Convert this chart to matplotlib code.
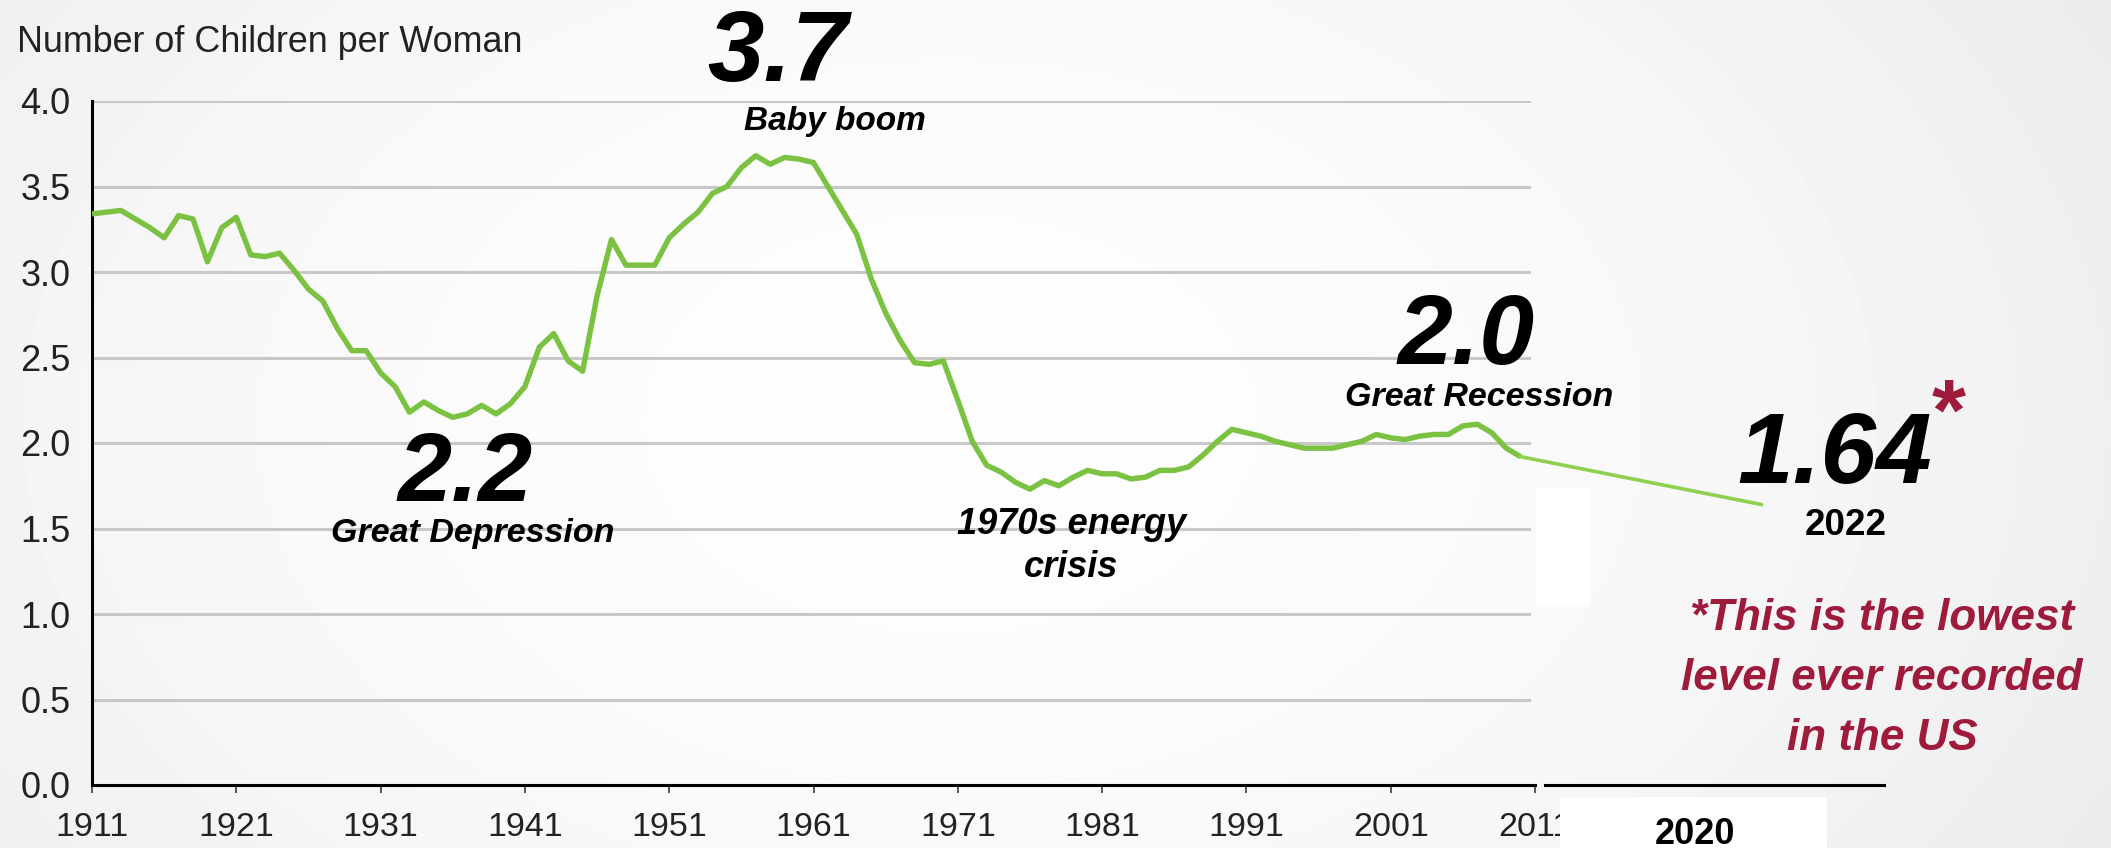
import numpy as np
import matplotlib.pyplot as plt
from matplotlib.patches import Rectangle, ConnectionPatch

# total fertility rate, US
years = list(range(1911, 2011))
fertility = [
    3.34, 3.35, 3.36, 3.31, 3.26, 3.20, 3.33, 3.31, 3.06, 3.26,  # 1911-1920
    3.32, 3.10, 3.09, 3.11, 3.01, 2.90, 2.83, 2.67, 2.54, 2.54,  # 1921-1930
    2.41, 2.33, 2.18, 2.24, 2.19, 2.15, 2.17, 2.22, 2.17, 2.23,  # 1931-1940
    2.33, 2.56, 2.64, 2.48, 2.42, 2.86, 3.19, 3.04, 3.04, 3.04,  # 1941-1950
    3.20, 3.28, 3.35, 3.46, 3.50, 3.61, 3.68, 3.63, 3.67, 3.66,  # 1951-1960
    3.64, 3.50, 3.36, 3.22, 2.96, 2.76, 2.60, 2.47, 2.46, 2.48,  # 1961-1970
    2.25, 2.01, 1.87, 1.83, 1.77, 1.73, 1.78, 1.75, 1.80, 1.84,  # 1971-1980
    1.82, 1.82, 1.79, 1.80, 1.84, 1.84, 1.86, 1.93, 2.01, 2.08,  # 1981-1990
    2.06, 2.04, 2.01, 1.99, 1.97, 1.97, 1.97, 1.99, 2.01, 2.05,  # 1991-2000
    2.03, 2.02, 2.04, 2.05, 2.05, 2.10, 2.11, 2.06, 1.97, 1.92,  # 2001-2010
]
tick_years = list(range(1911, 2012, 10))
y_ticks = [0.0, 0.5, 1.0, 1.5, 2.0, 2.5, 3.0, 3.5, 4.0]

latest_year = 2022
latest_value = 1.64
break_label_year = 2020

# annotation texts: (text, center x px, baseline y px, size pt)
big_numbers = [
    ("3.7", 778, 81, 73),
    ("2.2", 465, 501, 70),
    ("2.0", 1466, 364, 71),
    ("1.64", 1835, 483, 72),
]
event_labels = [
    ("Baby boom", 835, 130, 24),
    ("Great Depression", 473, 542, 24.5),
    ("Great Recession", 1479, 406, 24.5),
    ("1970s energy", 1072, 534, 26),
    ("crisis", 1071, 577, 26),
]
note_lines = ["*This is the lowest", "level ever recorded", "in the US"]

W, H = 2111, 848
FONT = "Liberation Sans"
GREEN = "#7cc242"
RED = "#9e1b3c"
INK = "#222222"

fig = plt.figure(figsize=(W / 100, H / 100), dpi=100)


def fx(x):
    return x / W


def fy(y):
    return 1 - y / H


# soft grey background gradient
bg = fig.add_axes([0, 0, 1, 1], zorder=-10)
gx, gy = np.meshgrid(np.linspace(0, 1, 420), np.linspace(0, 1, 170))
shade = 253 - 14 * ((gx - 0.45) / 0.55) ** 2 - 4 * ((gy - 0.5) / 0.5) ** 2
bg.imshow(shade, cmap="gray", vmin=0, vmax=255, aspect="auto",
          extent=[0, 1, 0, 1], interpolation="bilinear")
bg.axis("off")

# main chart
ax = fig.add_axes([fx(92), fy(785), fx(1535) - fx(92), fy(101) - fy(785)])
ax.set_facecolor("none")
for v in y_ticks[1:]:
    ax.axhline(v, xmax=0.996, color="#c8c8c8", lw=2.2, zorder=1)
ax.plot(years, fertility, color=GREEN, lw=3.9, solid_joinstyle="round",
        solid_capstyle="butt", zorder=3)
ax.set_xlim(1911, 2011)
ax.set_ylim(0, 4)
ax.set_xticks(tick_years)
ax.set_xticklabels([str(t) for t in tick_years], family=FONT, fontsize=24.5, color=INK)
ax.set_yticks(y_ticks)
ax.set_yticklabels([f"{v:.1f}" for v in y_ticks], family=FONT, fontsize=26, color=INK)
ax.tick_params(axis="y", length=0, pad=15.5)
ax.tick_params(axis="x", length=5.8, width=1.4, color="#555555", direction="out", pad=14)
for s in ["top", "right"]:
    ax.spines[s].set_visible(False)
for s in ["left", "bottom"]:
    ax.spines[s].set_color("black")
    ax.spines[s].set_linewidth(2.2)

# broken-off axis piece for the latest value
ax2 = fig.add_axes([fx(1545), fy(785), fx(1884) - fx(1545), fy(101) - fy(785)])
ax2.set_zorder(2)
ax2.set_facecolor("none")
ax2.set_xlim(2015.45, 2025.7)
ax2.set_ylim(0, 4)
ax2.set_xticks([break_label_year])
ax2.set_xticklabels([str(break_label_year)], family=FONT, fontsize=26,
                    fontweight="bold", color="black")
ax2.set_yticks([])
ax2.tick_params(axis="x", length=0, pad=23)
for s in ["top", "right", "left"]:
    ax2.spines[s].set_visible(False)
ax2.spines["bottom"].set_color("black")
ax2.spines["bottom"].set_linewidth(2.2)

# white patches from the original edit
fig.add_artist(Rectangle((fx(1560), fy(848)), fx(1827) - fx(1560), fy(797) - fy(848),
                         transform=fig.transFigure, facecolor="white",
                         edgecolor="none", zorder=1))
fig.add_artist(Rectangle((fx(1536), fy(607)), fx(1590) - fx(1536), fy(488) - fy(607),
                         transform=fig.transFigure, facecolor="white",
                         edgecolor="none", zorder=1))

# line from the last point to the 2022 value
con = ConnectionPatch(xyA=(years[-1], fertility[-1]), coordsA=ax.transData,
                      xyB=(latest_year, latest_value), coordsB=ax2.transData,
                      color="#8ed14f", lw=2.6, zorder=4)
fig.add_artist(con)

# texts
fig.text(fx(17), fy(52), "Number of Children per Woman", ha="left", va="baseline",
         family=FONT, fontsize=25.8, color=INK)

for txt, x, y, size in big_numbers:
    fig.text(fx(x), fy(y), txt, ha="center", va="baseline", family=FONT,
             fontsize=size, fontweight="bold", fontstyle="italic", color="black")

for txt, x, y, size in event_labels:
    fig.text(fx(x), fy(y), txt, ha="center", va="baseline", family=FONT,
             fontsize=size, fontweight="bold", fontstyle="italic", color="black")

fig.text(fx(1949), fy(440), "*", ha="center", va="baseline", family=FONT,
         fontsize=63, fontweight="bold", color=RED)
fig.text(fx(1846), fy(535), str(latest_year), ha="center", va="baseline", family=FONT,
         fontsize=26.6, fontweight="bold", color="black")

for i, line in enumerate(note_lines):
    fig.text(fx(1882), fy(630 + 60 * i), line, ha="center", va="baseline", family=FONT,
             fontsize=31.7, fontweight="bold", fontstyle="italic", color=RED)

fig.savefig("out.png", dpi=100)
